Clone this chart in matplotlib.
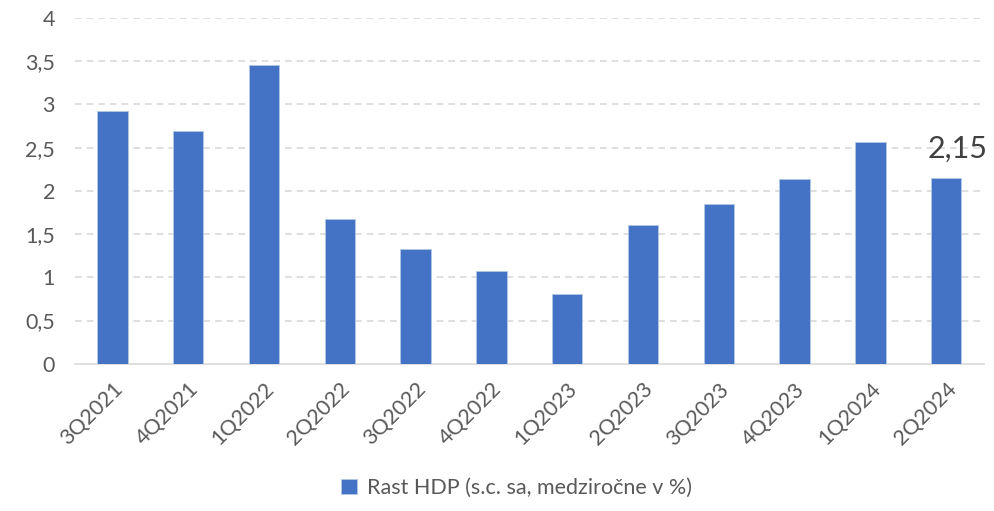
import matplotlib
matplotlib.use('Agg')
import matplotlib.pyplot as plt
import numpy as np

# data
quarters = ['3Q2021', '4Q2021', '1Q2022', '2Q2022', '3Q2022', '4Q2022',
            '1Q2023', '2Q2023', '3Q2023', '4Q2023', '1Q2024', '2Q2024']
growth = [2.92, 2.69, 3.46, 1.68, 1.33, 1.07, 0.81, 1.61, 1.85, 2.14, 2.57, 2.15]
last_label = '2,15'
series_name = 'Rast HDP (s.c. sa, medziročne v %)'
yticks = [0, 0.5, 1, 1.5, 2, 2.5, 3, 3.5, 4]
ytick_labels = ['0', '0,5', '1', '1,5', '2', '2,5', '3', '3,5', '4']

plt.rcParams['font.family'] = ['Lato', 'DejaVu Sans']
text_col = '#595959'

fig = plt.figure(figsize=(9.94, 5.11), dpi=100)
ax = fig.add_axes([0.075, 0.288, 0.915, 0.677])

x = np.arange(len(quarters))
ax.bar(x, growth, width=0.4, color='#4472C4', edgecolor='#B4C7E7', linewidth=0.6,
       label=series_name, zorder=3)

ax.set_ylim(0, 4)
ax.set_xlim(-0.5, len(quarters) - 0.5)
ax.set_yticks(yticks)
ax.set_yticklabels(ytick_labels)
ax.set_xticks(x)
ax.set_xticklabels(quarters, rotation=45, ha='right', rotation_mode='anchor')
ax.tick_params(axis='both', length=0, labelsize=15.5, colors=text_col)
ax.tick_params(axis='x', pad=11)
ax.tick_params(axis='y', pad=14)

for yv in yticks[1:]:
    ax.axhline(yv, color='#D9D9D9', linestyle=(0, (4, 3)), linewidth=1.2, zorder=1)

for s in ['top', 'right', 'left']:
    ax.spines[s].set_visible(False)
ax.spines['bottom'].set_color('#D9D9D9')
ax.spines['bottom'].set_linewidth(1.2)

ax.annotate(last_label, (x[-1], growth[-1]), xytext=(8, 11), textcoords='offset points',
            ha='center', va='bottom', fontsize=22, color='#404040')

fig.legend(loc='lower center', bbox_to_anchor=(0.52, -0.012), frameon=False,
           fontsize=15.5, labelcolor=text_col, handlelength=0.7, handleheight=0.7,
           handletextpad=0.5)

fig.savefig('out.png', dpi=100)
